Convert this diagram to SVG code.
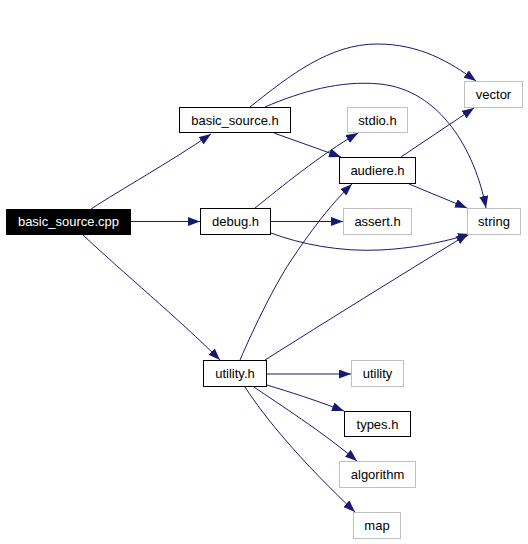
<svg xmlns="http://www.w3.org/2000/svg" width="528" height="544" viewBox="0 0 528 544">
<defs>
<marker id="ah" markerUnits="userSpaceOnUse" markerWidth="12" markerHeight="9" refX="12" refY="4.5" orient="auto">
<path d="M0,0 L12,4.5 L0,9 z" fill="#191970" stroke="none"/>
</marker>
<style>
.e{fill:none;stroke:#191970;stroke-width:1;marker-end:url(#ah)}
.n rect{fill:#fff;stroke:#000;stroke-width:1}
.g rect{fill:#fff;stroke:#bfbfbf;stroke-width:1}
text{font-family:"Liberation Sans",Arial,sans-serif;font-size:13px;text-anchor:middle;fill:#000}
</style>
</defs>
<rect width="528" height="544" fill="#fff"/>
<g id="edges">
<path class="e" d="M91,209 C120,190 170,162 211,134"/>
<path class="e" d="M131,221.5 L200,221.5"/>
<path class="e" d="M83,235 C120,270 180,320 220,360"/>
<path class="e" d="M250,107 C290,75 330,44 377,44 C420,44 450,62 476,81"/>
<path class="e" d="M265,107 C300,92 340,80 380,84 C440,90 475,150 486,208"/>
<path class="e" d="M274,133 L341,157"/>
<path class="e" d="M255,208 C280,188 320,155 358,133"/>
<path class="e" d="M271,221.5 L343,221.5"/>
<path class="e" d="M271,233 C300,244 340,252 380,250 C420,248 450,240 470,234"/>
<path class="e" d="M401,157 L474,108"/>
<path class="e" d="M409,184 L467,208"/>
<path class="e" d="M240,360 C255,325 275,285 290,262 C310,232 330,205 352,184"/>
<path class="e" d="M265,360 Q360,300 468,234"/>
<path class="e" d="M267,374 L351,374"/>
<path class="e" d="M267,385 C290,392 315,400 344,411"/>
<path class="e" d="M254,387 C280,405 320,430 357,461"/>
<path class="e" d="M245,387 C265,418 300,460 355,512"/>
</g>
<g id="basic_source_cpp"><rect x="6.5" y="209.5" width="124" height="25" fill="#000" stroke="#000"/><text x="68.5" y="226" fill="#fff" style="fill:#fff">basic_source.cpp</text></g>
<g id="basic_source_h" class="n"><rect x="179.5" y="107.5" width="111" height="25"/><text x="235" y="125">basic_source.h</text></g>
<g id="debug_h" class="n"><rect x="200.5" y="208.5" width="70" height="26"/><text x="235.5" y="226">debug.h</text></g>
<g id="vector" class="g"><rect x="464.5" y="81.5" width="58" height="26"/><text x="493.5" y="99">vector</text></g>
<g id="stdio_h" class="g"><rect x="347.5" y="107.5" width="60" height="25"/><text x="377.5" y="125">stdio.h</text></g>
<g id="audiere_h" class="n"><rect x="339.5" y="157.5" width="76" height="26"/><text x="377.5" y="175">audiere.h</text></g>
<g id="assert_h" class="g"><rect x="343.5" y="208.5" width="68" height="26"/><text x="377.5" y="226">assert.h</text></g>
<g id="string" class="g"><rect x="467.5" y="208.5" width="53" height="26"/><text x="494" y="226">string</text></g>
<g id="utility_h" class="n"><rect x="203.5" y="360.5" width="63" height="26"/><text x="235" y="378">utility.h</text></g>
<g id="utility" class="g"><rect x="351.5" y="360.5" width="52" height="26"/><text x="377.5" y="378">utility</text></g>
<g id="types_h" class="n"><rect x="344.5" y="411.5" width="66" height="25"/><text x="377.5" y="429">types.h</text></g>
<g id="algorithm" class="g"><rect x="339.5" y="461.5" width="76" height="26"/><text x="377.5" y="479">algorithm</text></g>
<g id="map" class="g"><rect x="353.5" y="512.5" width="47" height="26"/><text x="377" y="530">map</text></g>
</svg>
